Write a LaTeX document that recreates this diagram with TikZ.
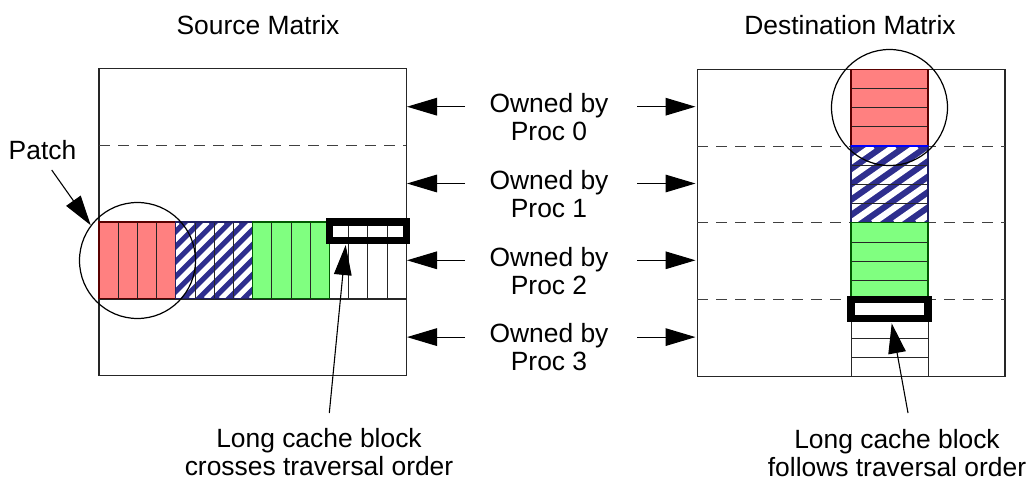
\documentclass[tikz,border=0pt]{standalone}
\usepackage{fontspec}
\setmainfont{Liberation Sans}
\usetikzlibrary{arrows.meta}
\definecolor{cred}{HTML}{FF8080}
\definecolor{cgreen}{HTML}{80FF80}
\definecolor{cnavy}{HTML}{2E2E8E}
\begin{document}
\begin{tikzpicture}[x=0.5pt,y=-0.5pt,
  mat/.style={draw=black!85, line width=0.65pt},
  sepline/.style={draw=black!75, line width=0.55pt, dash pattern=on 5.5pt off 4pt},
  cell/.style={draw=black!85, line width=0.5pt},
  cacheblk/.style={draw=black, line width=3.6pt},
  arr/.style={-{Triangle[length=15pt,width=8.8pt]}, line width=0.55pt},
  lbl/.style={font=\fontsize{13.2}{14}\selectfont, align=center, inner sep=0pt},
  ring/.style={draw=black, line width=0.6pt, circle, minimum size=58pt, inner sep=0pt},
  hatchw/.style={draw=white}
]
\useasboundingbox (0,0) rectangle (1032,480);

% ---------- Source matrix ----------
\draw[mat] (99,68.5) rectangle (406.2,375.7);
\draw[sepline] (99,145.3) -- (406.2,145.3);
% strip
\fill[cred] (99,222.1) rectangle (175.8,298.9);
\fill[cnavy] (175.8,222.1) rectangle (252.6,298.9);
\begin{scope}
  \clip (175.8,222.1) rectangle (252.6,298.9);
  \foreach \t in {-7,...,6}
    \draw[hatchw, line width=2.6pt] ({175.8+\t*15},298.9) -- ++(76.8,-76.8);
\end{scope}
\fill[cgreen] (252.6,222.1) rectangle (329.4,298.9);
\foreach \i in {1,...,15}
  \draw[cell] ({99+\i*19.2},222.1) -- ({99+\i*19.2},298.9);
\draw[mat] (99,222.1) -- (406.2,222.1);
\draw[mat] (99,298.9) -- (406.2,298.9);
\draw[draw=red!35!black, line width=0.6pt] (99,222.1) rectangle (175.8,298.9);
\draw[draw=cnavy!70!black, line width=0.6pt] (175.8,222.1) rectangle (252.6,298.9);
\draw[draw=green!35!black, line width=0.6pt] (252.6,222.1) rectangle (329.4,298.9);
\draw[cacheblk] (329.4,222.1) rectangle (406.2,240.5);

% ---------- Destination matrix ----------
\draw[mat] (697.3,69.3) rectangle (1005,376.5);
\foreach \yy in {146.1,222.9,299.7}
  \draw[sepline] (697.3,\yy) -- (1005,\yy);
\fill[cred] (851,69.3) rectangle (928,146.1);
\fill[cnavy] (851,146.1) rectangle (928,222.9);
\begin{scope}
  \clip (851,146.1) rectangle (928,222.9);
  \foreach \t in {-6,...,4}
    \draw[hatchw, line width=3.1pt] ({851+\t*22},222.9) -- ++(109.7,-76.8);
\end{scope}
\fill[cgreen] (851,222.9) rectangle (928,299.7);
\foreach \k in {1,...,15}
  \draw[cell] (851,{69.3+\k*19.2}) -- (928,{69.3+\k*19.2});
\draw[cell] (851,69.3) -- (851,376.5);
\draw[cell] (928,69.3) -- (928,376.5);
\draw[draw=red!35!black, line width=0.6pt] (851,69.3) rectangle (928,146.1);
\draw[draw=cnavy!70!black, line width=0.6pt] (851,146.1) rectangle (928,222.9);
\draw[draw=blue, line width=0.7pt] (851,146.1) -- (928,146.1);
\draw[draw=green!35!black, line width=0.6pt] (851,222.9) rectangle (928,299.7);
\draw[cacheblk] (851,299.7) rectangle (928,318.9);

% ---------- rings ----------
\node[ring] (patchring) at (137.5,260.5) {};
\node[ring] (destring) at (889.5,107.5) {};

% ---------- titles ----------
\node[lbl, anchor=base] (srctitle) at (258,35) {Source Matrix};
\node[lbl, anchor=base] (dsttitle) at (850,35) {Destination Matrix};

% ---------- ownership labels and arrows ----------
\foreach \r/\yl/\ya in {0/117/106.7, 1/193.8/183.5, 2/270.6/260.3, 3/347.4/337.1}{
  \node[lbl] (own\r) at (549,\yl) {Owned by\\Proc \r};
  \coordinate (ownL\r) at (465,\ya);
  \coordinate (srcE\r) at (407,\ya);
  \coordinate (ownR\r) at (637,\ya);
  \coordinate (dstE\r) at (695.5,\ya);
  \draw[arr] (ownL\r) -- (srcE\r);
  \draw[arr] (ownR\r) -- (dstE\r);
}

% ---------- Patch label ----------
\node[lbl, anchor=base] (patch) at (42.5,159.3) {Patch};
\coordinate (patchtail) at (51.7,170);
\draw[arr] (patchtail) -- (patchring.143);

% ---------- cache block labels ----------
\node[lbl] (srccb) at (319,452) {Long cache block\\crosses traversal order};
\coordinate (srccbtail) at (329.3,413);
\coordinate (srccbtip) at (345.7,245);
\draw[arr] (srccbtail) -- (srccbtip);

\node[lbl] (dstcb) at (897,453) {Long cache block\\follows traversal order};
\coordinate (dstcbtail) at (908,413);
\coordinate (dstcbtip) at (891.7,323.3);
\draw[arr] (dstcbtail) -- (dstcbtip);
\end{tikzpicture}
\end{document}
